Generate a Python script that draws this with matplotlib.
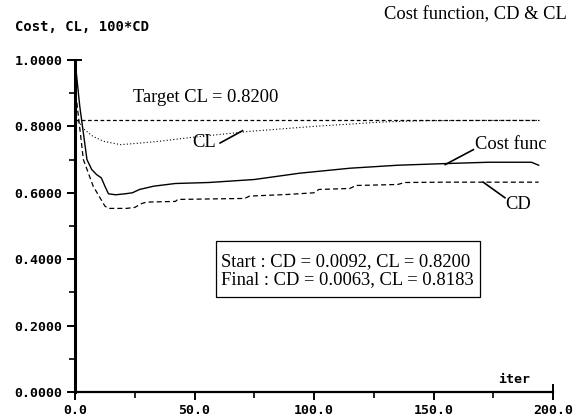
import matplotlib
matplotlib.use("Agg")
import matplotlib.pyplot as plt
from matplotlib.patches import Rectangle
from matplotlib.ticker import MultipleLocator, FormatStrFormatter

# values
cost_iter = [0, 2, 5, 7, 9, 11, 12.5, 14, 17, 21, 24, 27, 33, 42, 56, 75, 94, 115, 135, 155, 173, 191, 194]
cost = [1.0, 0.86, 0.70, 0.67, 0.655, 0.645, 0.62, 0.597, 0.594, 0.597, 0.60, 0.61, 0.62, 0.628,
        0.631, 0.64, 0.659, 0.674, 0.683, 0.688, 0.692, 0.692, 0.683]

cl_iter = [0, 2, 4, 7.5, 12, 19, 26, 35, 49, 73, 100, 128, 145, 170, 194]
cl = [0.82, 0.81, 0.79, 0.77, 0.755, 0.745, 0.749, 0.755, 0.767, 0.785, 0.80, 0.813, 0.817, 0.818, 0.818]

cd_iter = [0, 3.5, 7.6, 12.5, 14, 21.5, 25, 28, 30, 42, 43, 71, 73, 89, 100, 102, 115, 117.5,
           135, 138, 155, 194]
cd = [0.92, 0.70, 0.62, 0.56, 0.553, 0.553, 0.556, 0.568, 0.572, 0.574, 0.58, 0.583, 0.59, 0.595,
      0.60, 0.61, 0.613, 0.622, 0.625, 0.631, 0.632, 0.632]

target_iter = [0, 194]
target_cl = [0.82, 0.82]

start_text = "Start : CD = 0.0092, CL = 0.8200"
final_text = "Final : CD = 0.0063, CL = 0.8183"

serif = "Liberation Serif"
mono = "DejaVu Sans Mono"
fs = 13.3

fig = plt.figure(figsize=(5.73, 4.16), dpi=100)
ax = fig.add_axes([0.1309, 0.0577, 0.8342, 0.7981])

ax.plot(cost_iter, cost, color="black", lw=1.0)
ax.plot(cl_iter, cl, color="black", lw=0.8, linestyle=(0, (1, 2)))
ax.plot(cd_iter, cd, color="black", lw=0.9, linestyle=(0, (4, 2.5)))
ax.plot(target_iter, target_cl, color="black", lw=0.9, linestyle=(0, (3, 2)))

ax.set_xlim(0, 200)
ax.set_ylim(0, 1)
for s in ["top", "right"]:
    ax.spines[s].set_visible(False)
ax.spines["left"].set_linewidth(2.2)
ax.spines["bottom"].set_linewidth(1.6)

ax.xaxis.set_major_locator(MultipleLocator(50))
ax.xaxis.set_minor_locator(MultipleLocator(25))
ax.yaxis.set_major_locator(MultipleLocator(0.2))
ax.yaxis.set_minor_locator(MultipleLocator(0.1))
ax.xaxis.set_major_formatter(FormatStrFormatter("%.1f"))
ax.yaxis.set_major_formatter(FormatStrFormatter("%.4f"))
ax.tick_params(which="major", direction="out", length=6, width=1.4, pad=3)
ax.tick_params(which="minor", direction="out", length=4, width=1.2)
for lab in ax.get_xticklabels() + ax.get_yticklabels():
    lab.set_family(mono)
    lab.set_weight("bold")
    lab.set_size(9.5)

# end caps of the axes
ax.plot([1, 1], [0, 0.02], transform=ax.transAxes, color="black", lw=1.4, clip_on=False)
ax.plot([0, 0.012], [1, 1], transform=ax.transAxes, color="black", lw=1.4, clip_on=False)

fig.text(0.026, 0.936, "Cost, CL, 100*CD", family=mono, weight="bold", size=10, va="center")
fig.text(0.9895, 0.964, "Cost function, CD & CL", family=serif, size=fs, ha="right", va="center")
ax.text(183.7, 0.039, "iter", family=mono, weight="bold", size=9.5, ha="center", va="center")

ax.text(24.2, 0.886, "Target CL = 0.8200", family=serif, size=fs, va="center")

ax.text(49.2, 0.751, "CL", family=serif, size=fs, va="center")
ax.plot([60.7, 70.1], [0.75, 0.787], color="black", lw=1.2)

ax.text(167.5, 0.745, "Cost func", family=serif, size=fs, va="center")
ax.plot([166.7, 154.9], [0.730, 0.685], color="black", lw=1.2)

ax.text(180, 0.565, "CD", family=serif, size=fs, va="center")
ax.plot([170.8, 179.9], [0.632, 0.585], color="black", lw=1.2)

ax.add_patch(Rectangle((59.2, 0.285), 110.4, 0.169, fill=False, ec="black", lw=0.9))
ax.text(61.1, 0.394, start_text, family=serif, size=fs, va="center")
ax.text(61.1, 0.339, final_text, family=serif, size=fs, va="center")

fig.savefig("out.png", dpi=100)
